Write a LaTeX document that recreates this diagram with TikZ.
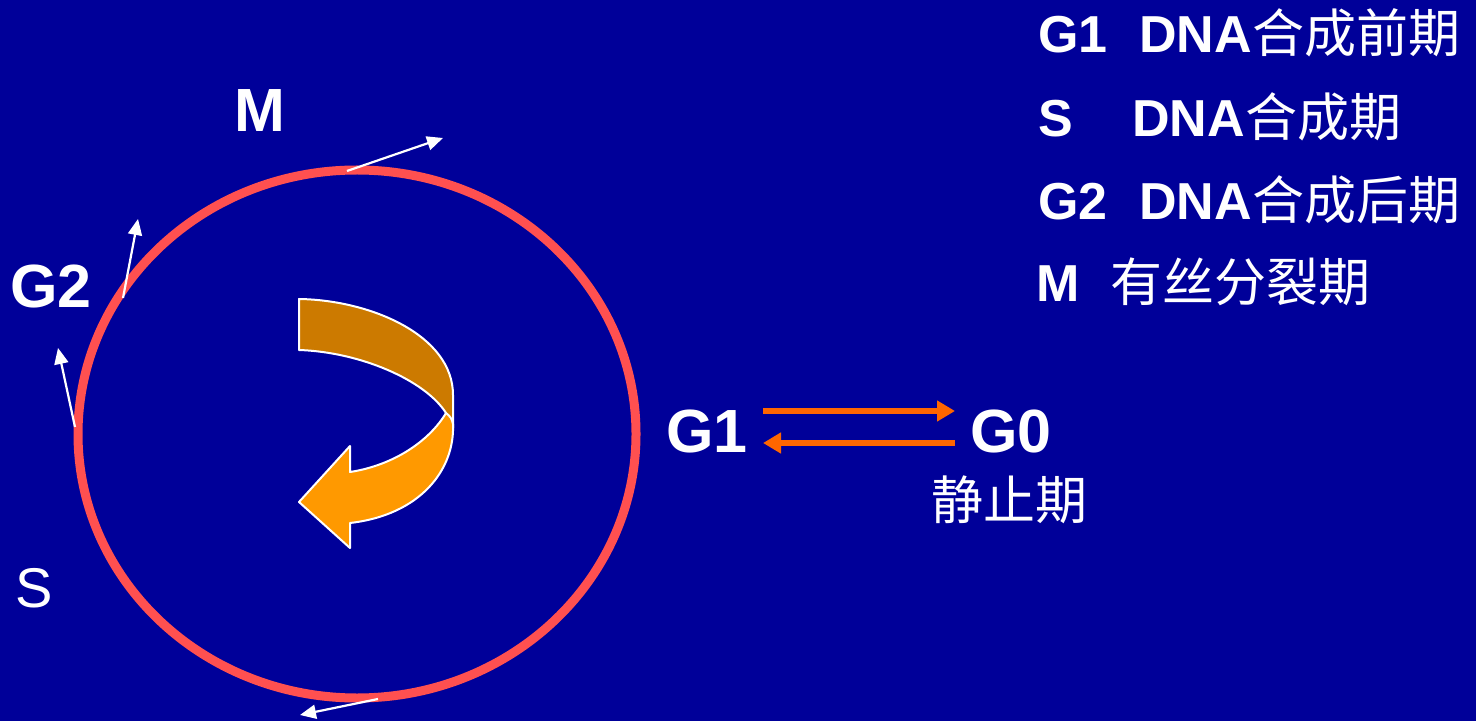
\documentclass[tikz,border=0pt]{standalone}
\usepackage{fontspec}
\setmainfont{Liberation Sans}
\newfontfamily\cjk{Noto Sans CJK SC}
\usetikzlibrary{arrows.meta}
\definecolor{bg}{HTML}{000099}
\definecolor{ring}{HTML}{FF5050}
\definecolor{darkor}{HTML}{CC7A00}
\definecolor{lightor}{HTML}{FF9900}
\definecolor{arr}{HTML}{FF6600}
\begin{document}
\begin{tikzpicture}[x=0.5pt,y=-0.5pt,
  lbl/.style={text=white,inner sep=0,anchor=base west,font=\bfseries\fontsize{30.5}{36}\selectfont},
  leg/.style={text=white,inner sep=0,anchor=base west,font=\bfseries\fontsize{26}{32}\selectfont},
  tang/.style={white,line width=1.1pt,-{Triangle[length=8pt,width=7pt]}},
  orarrow/.style={arr,line width=3pt,-{Triangle[length=9pt,width=10pt]}},
  band/.style={draw=white,line width=1pt,line join=round}]
\path[fill=bg] (0,0) rectangle (1476,721);
% cell cycle ring
\draw[ring,line width=4.5pt] (357,434) ellipse [x radius=279,y radius=264];
% tangent arrows
\coordinate (t1s) at (347,171); \coordinate (t1e) at (443,138);
\coordinate (t2s) at (123,298); \coordinate (t2e) at (138,219);
\coordinate (t3s) at (75,427);  \coordinate (t3e) at (58,348);
\coordinate (t4s) at (378,699); \coordinate (t4e) at (300,715);
\draw[tang] (t1s) -- (t1e);
\draw[tang] (t2s) -- (t2e);
\draw[tang] (t3s) -- (t3e);
\draw[tang] (t4s) -- (t4e);
% curved ribbon arrow
\fill[darkor,band] (299,299) .. controls (370,300) and (453,335) .. (453,395)
  -- (453,428) -- (446,413) .. controls (425,380) and (360,352) .. (299,350) -- cycle;
\fill[lightor,band] (446,413) .. controls (450,416) and (452,419) .. (453,424)
  .. controls (455,470) and (420,515) .. (350,523) -- (350,548) -- (299,502)
  -- (350,446) -- (350,472) .. controls (395,465) and (430,440) .. (446,413) -- cycle;
% phase labels
\node[lbl] (m) at (234,132) {M};
\node[lbl] (g2) at (10,307) {G2};
\node[text=white,inner sep=0,anchor=base west,font=\fontsize{28}{34}\selectfont] (s) at (15,607) {S};
\node[lbl] (g1) at (666,452) {G1};
\node[lbl] (g0) at (970,452) {G0};
\node[text=white,inner sep=0,anchor=base west,font=\cjk\fontsize{26}{32}\selectfont] (rest) at (931,519) {静止期};
% G1 <-> G0 arrows
\coordinate (a1s) at (763,411); \coordinate (a1e) at (955,411);
\coordinate (a2s) at (955,443); \coordinate (a2e) at (763,443);
\draw[orarrow] (a1s) -- (a1e);
\draw[orarrow] (a2s) -- (a2e);
% legend
\node[leg] (l1a) at (1038,53) {G1};
\node[leg] (l1b) at (1139,53) {DNA{\cjk\mdseries 合成前期}};
\node[leg] (l2a) at (1038,137) {S};
\node[leg] (l2b) at (1132,137) {DNA{\cjk\mdseries 合成期}};
\node[leg] (l3a) at (1038,220) {G2};
\node[leg] (l3b) at (1139,220) {DNA{\cjk\mdseries 合成后期}};
\node[leg] (l4a) at (1036,302) {M};
\node[leg] (l4b) at (1110,302) {{\cjk\mdseries 有丝分裂期}};
\end{tikzpicture}
\end{document}
